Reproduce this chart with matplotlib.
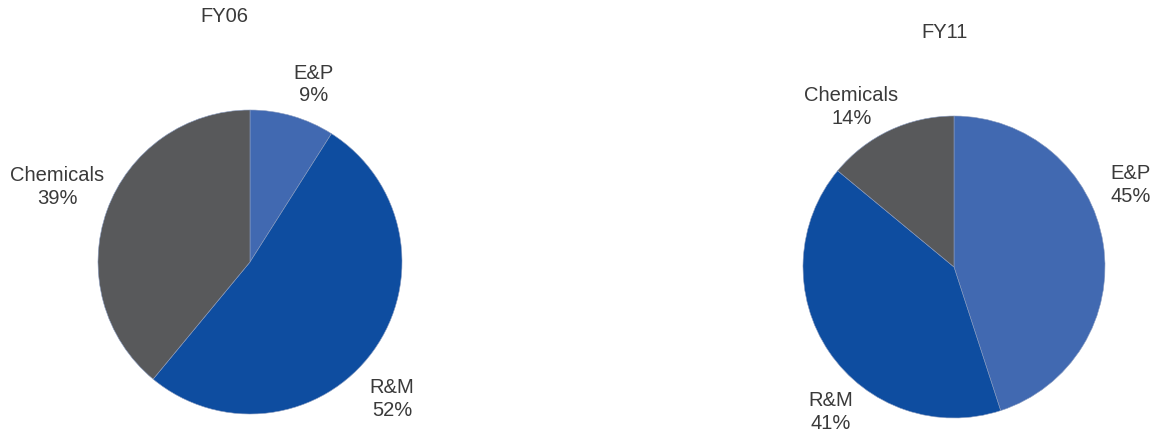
import numpy as np
import matplotlib
matplotlib.use("Agg")
import matplotlib.pyplot as plt

# Segment share of revenue, FY06 vs FY11
segments = ["E&P", "R&M", "Chemicals"]
fy06_share = [9, 52, 39]
fy11_share = [45, 41, 14]
years = ["FY06", "FY11"]

colors = ["#4169b1", "#0e4da0", "#58595b"]
text_color = "#3a3a3a"

fig = plt.figure(figsize=(11.56, 4.29), dpi=100)
ax = fig.add_axes([0, 0, 1, 1])
ax.set_xlim(0, 1156)
ax.set_ylim(0, 429)
ax.set_aspect("equal")
ax.axis("off")

# per-pie layout: centre, radius, title position, label nudges (deg, radius factor)
layouts = [
    dict(center=(250, 167), radius=152, title=(224, 412),
         nudge=[(-3.5, 1.24), (-8, 1.30), (-1.5, 1.36)]),
    dict(center=(954, 162), radius=151, title=(945, 397),
         nudge=[(16, 1.29), (15.5, 1.26), (7.5, 1.26)]),
]

for year, share, lay in zip(years, [fy06_share, fy11_share], layouts):
    wedges, _ = ax.pie(share, colors=colors, startangle=90, counterclock=False,
                       center=lay["center"], radius=lay["radius"],
                       wedgeprops=dict(edgecolor="#8a9cc0", linewidth=0.4))
    cx, cy = lay["center"]
    for w, name, val, (dang, dist) in zip(wedges, segments, share, lay["nudge"]):
        mid = np.deg2rad((w.theta1 + w.theta2) / 2 + dang)
        x = cx + dist * lay["radius"] * np.cos(mid)
        y = cy + dist * lay["radius"] * np.sin(mid)
        ax.text(x, y, f"{name}\n{val}%", ha="center", va="center",
                fontsize=14.5, family="Liberation Sans", color=text_color,
                linespacing=1.25)
    ax.text(lay["title"][0], lay["title"][1], year, ha="center", va="center",
            fontsize=14.5, family="Liberation Sans", color=text_color)

# pie() resets the limits, so set them again
ax.set_xlim(0, 1156)
ax.set_ylim(0, 429)

fig.savefig("out.png", dpi=100)
